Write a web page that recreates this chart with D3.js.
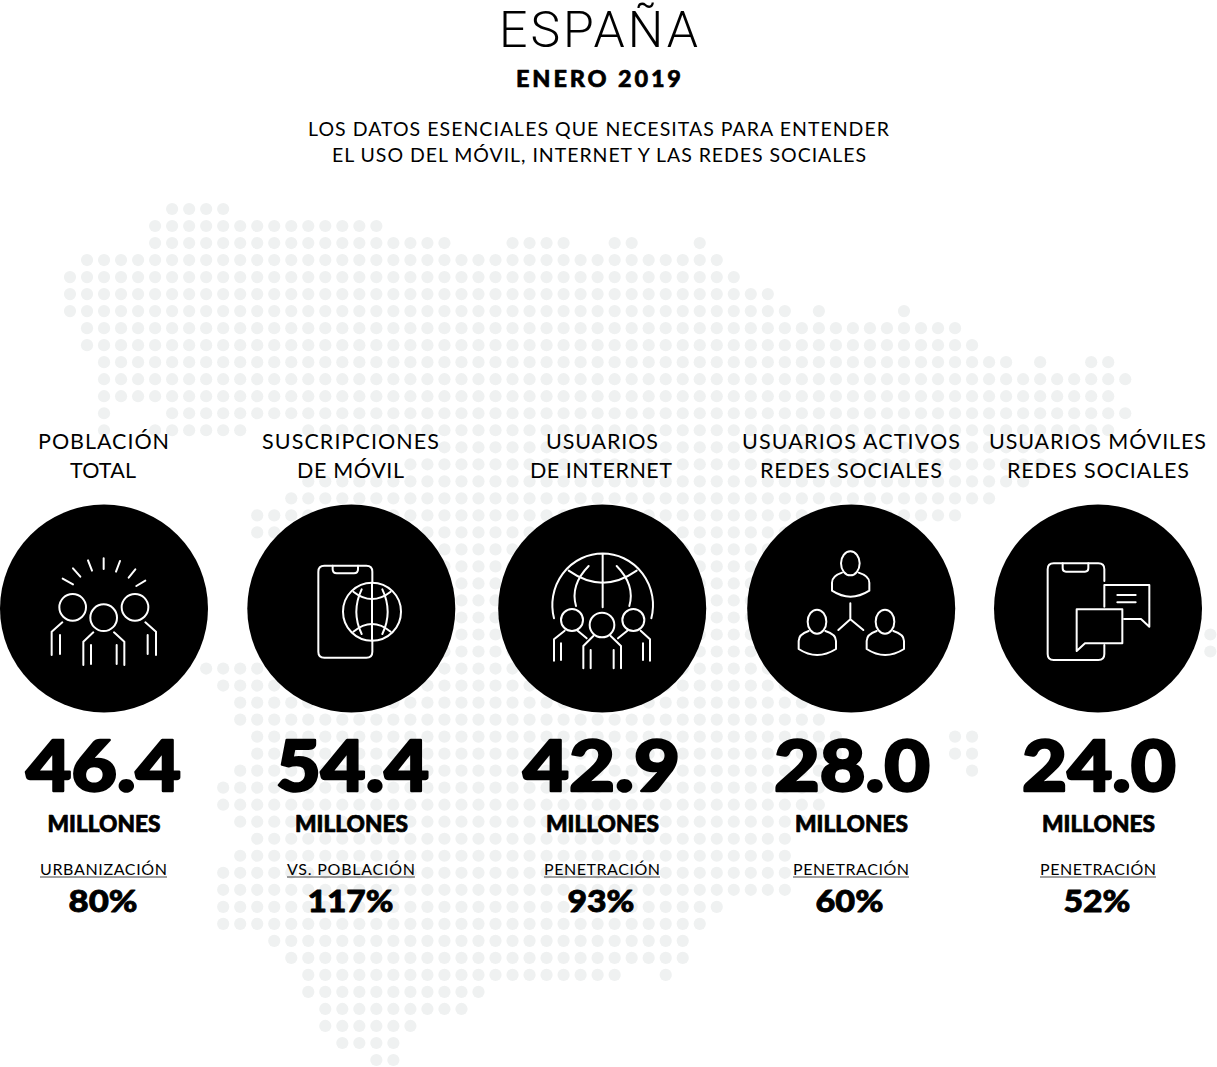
<!DOCTYPE html>
<html><head><meta charset="utf-8">
<script src="https://cdn.jsdelivr.net/npm/d3@7/dist/d3.min.js"></script>
<style>
html,body{margin:0;padding:0;background:#fff}
svg{display:block}
text{font-family:Lato,"Noto Sans",sans-serif;fill:#000;text-anchor:middle}
</style></head><body><div id="c"></div>
<script>
// ---------- data ----------
const title = "ESPAÑA";
const dateLabel = "ENERO 2019";
const subtitle = ["LOS DATOS ESENCIALES QUE NECESITAS PARA ENTENDER","EL USO DEL MÓVIL, INTERNET Y LAS REDES SOCIALES"];
const categoryLines = [["POBLACIÓN","TOTAL"],["SUSCRIPCIONES","DE MÓVIL"],["USUARIOS","DE INTERNET"],["USUARIOS ACTIVOS","REDES SOCIALES"],["USUARIOS MÓVILES","REDES SOCIALES"]];
const values = [46.4,54.4,42.9,28.0,24.0];
const unitLabel = "MILLONES";
const ratioLabels = ["URBANIZACIÓN","VS. POBLACIÓN","PENETRACIÓN","PENETRACIÓN","PENETRACIÓN"];
const ratios = [80,117,93,60,52];
const icons = ["people","phoneGlobe","globePeople","network","chat"];
// dotted map: for each grid row, the runs of filled grid columns
const mapRows = [
 [[6,9]],[[5,18]],[[5,22],[26,29],[32,33],[37,37]],[[1,38]],[[0,39]],[[0,41]],[[0,42],[44,44],[49,49]],
 [[1,52]],[[1,53]],[[2,55],[57,57],[60,61]],[[2,62]],[[2,61]],[[2,2],[6,62]],[[2,2],[5,10],[14,61]],
 [[22,57]],[[20,57]],[[14,56]],[[13,54]],[[11,52]],[[11,47]],[[12,47]],[[12,47]],[[12,47]],[[12,47]],
 [[12,47]],[[12,47],[67,67]],[[12,47],[67,67]],[[8,46]],[[9,45]],[[10,44]],[[10,44]],[[11,45],[52,53]],
 [[11,45],[52,53]],[[10,44],[53,53]],[[9,44]],[[9,44]],[[10,43]],[[11,42]],[[10,42]],[[9,42]],[[9,42]],
 [[9,38]],[[9,37]],[[12,36]],[[13,36]],[[14,32],[35,35]],[[14,24]],[[15,23]],[[15,20]],[[16,19]],[[18,19]]
];

// ---------- layout ----------
const W = 1217, H = 1067;
const svg = d3.select("#c").append("svg").attr("width",W).attr("height",H);
const col = d3.scaleLinear().domain([0,1]).range([70,87.02]);
const row = d3.scaleLinear().domain([0,1]).range([209,226.02]);
const circleX = [104,351.3,602.2,851.2,1098];
const circleY = 608.5, circleR = 104;

const dots = mapRows.flatMap((runs,r)=>runs.flatMap(([a,b])=>d3.range(a,b+1).map(c=>({r,c}))));
svg.append("g").selectAll("circle").data(dots).join("circle")
  .attr("cx",d=>col(d.c)).attr("cy",d=>row(d.r)).attr("r",6.1).attr("fill","#eff1f1");

function put(txt,x,y,size,weight,width,mode,thick){
  const t = svg.append("text").text(txt).attr("x",x).attr("y",y)
    .style("font-size",size+"px").style("font-weight",weight)
    .attr("textLength",width).attr("lengthAdjust",mode||"spacing");
  if(thick) t.attr("stroke","#000").attr("stroke-width",thick).attr("stroke-linejoin","round");
  return t;
}
put(title,598.5,46.6,50,300,199).style("font-family","Roboto,Lato,sans-serif");
put(dateLabel,598.5,87,23.5,900,165,"spacing",0.6);
put(subtitle[0],598.5,136,19.5,400,581);
put(subtitle[1],599,162.3,19.5,400,534);

const labelX = [[103.5,103],[350.5,350.5],[602,601],[851,851],[1097.5,1098]];
const labelW = [[131,66],[177,107],[112,142],[218,182],[217,182]];
const valueX = [103.5,352.5,601.5,852,1099];
const valueW = [155,153,157,156,154];
const unitX = [104,351.5,602.5,851.5,1098.5];
const ratioX = [103.5,351,602,851,1098];
const ratioW = [127,128,116,116,116];
const pctX = [103,350.5,601,849.5,1097];
const pctW = [69,86,67,68,67];

values.forEach((v,i)=>{
  categoryLines[i].forEach((t,j)=>put(t,labelX[i][j],449+j*29,21.5,400,labelW[i][j]));
  svg.append("circle").attr("cx",circleX[i]).attr("cy",circleY).attr("r",circleR).attr("fill","#000");
  put(d3.format(".1f")(v),valueX[i],791,70,900,valueW[i],"spacingAndGlyphs",2.4);
  put(unitLabel,unitX[i],831.7,22.5,900,113,"spacingAndGlyphs",0.7);
  put(ratioLabels[i],ratioX[i],875,16,400,ratioW[i]);
  svg.append("line").attr("x1",ratioX[i]-ratioW[i]/2).attr("x2",ratioX[i]+ratioW[i]/2)
    .attr("y1",877).attr("y2",877).attr("stroke","#444").attr("stroke-width",1);
  put(ratios[i]+"%",pctX[i],911.5,31,900,pctW[i],"spacingAndGlyphs",0.8);
});

// ---------- pictograms (line icons drawn in 3x units) ----------
const person = (dx,dy)=>`M${1056+dx} ${218+dy}Q${1026+dx} ${228+dy} ${1026+dx} ${248+dy}V${272+dy}Q${1081+dx} ${308+dy} ${1138+dx} ${272+dy}V${248+dy}Q${1138+dx} ${228+dy} ${1106+dx} ${218+dy}`;
const ring = (x,y,rx,ry)=>`M${x-rx} ${y}A${rx} ${ry} 0 1 1 ${x+rx} ${y}A${rx} ${ry} 0 1 1 ${x-rx} ${y}Z`;
const iconPaths = {
 people:{ox:0,d:[
  "M311 175V207M264 181L276 212M219 205L241 230M188 236L219 253M360 183L348 215M406 208L386 233M436 242L409 258",
  ring(218,322,40,40),ring(405,322,40,40),ring(311,353,40,40),
  "M187 367L155 395V465M180 405V462M436 367L468 395V465M443 405V462",
  "M280 397L250 425V495M273 435V492M342 397L373 425V495M350 435V492"]},
 phoneGlobe:{ox:0,d:[
  "M1117 250V215Q1117 197 1099 197H973Q955 197 955 215V455Q955 473 973 473H1099Q1117 473 1117 455V420",
  "M998 197V208Q998 220 1010 220H1062Q1074 220 1074 208V197",
  ring(1116,335,87,87),"M1116 250V420M1085 268Q1053 335 1085 402M1147 268Q1179 335 1147 402",
  "M1060 275Q1116 319 1172 275M1060 395Q1116 349 1172 395"]},
 globePeople:{ox:490,d:[
  "M192 355A151 155 0 1 1 484 355M338 165V322M236 212Q338 284 440 212M296 198Q240 255 258 318M380 198Q436 255 418 318",
  ring(246,360,33,33),ring(430,360,33,33),ring(336,375,37,37),
  "M224 392L192 418V482M213 430V480M263 392L290 415M452 392L480 418V482M459 430V480M412 392L384 415",
  "M310 408L280 438V505M302 450V505M362 408L393 438V505M371 450V505"]},
 network:{ox:490,d:[
  ring(1081,190,28,36),person(0,0),ring(981,365,28,36),person(-100,175),ring(1185,365,28,36),person(104,175),
  "M1081 310V358L1045 390M1081 358L1120 390"]},
 chat:{ox:980,d:[
  "M373 243V208Q373 190 355 190H221Q203 190 203 208V462Q203 480 221 480H355Q373 480 373 462V435",
  "M248 190V205Q248 215 258 215H315Q325 215 325 205V190",
  "M373 320V255H508V380L483 357H432M412 285H467M412 307H467",
  "M290 328H427V430H315L290 453Z"]}
};
icons.forEach(k=>{
  const ic = iconPaths[k];
  svg.append("g").attr("transform",`translate(${ic.ox},500) scale(${1/3})`)
    .selectAll("path").data(ic.d).join("path").attr("d",d=>d)
    .attr("fill","none").attr("stroke","#fff").attr("stroke-width",6)
    .attr("stroke-linecap","round").attr("stroke-linejoin","round");
});
</script></body></html>
